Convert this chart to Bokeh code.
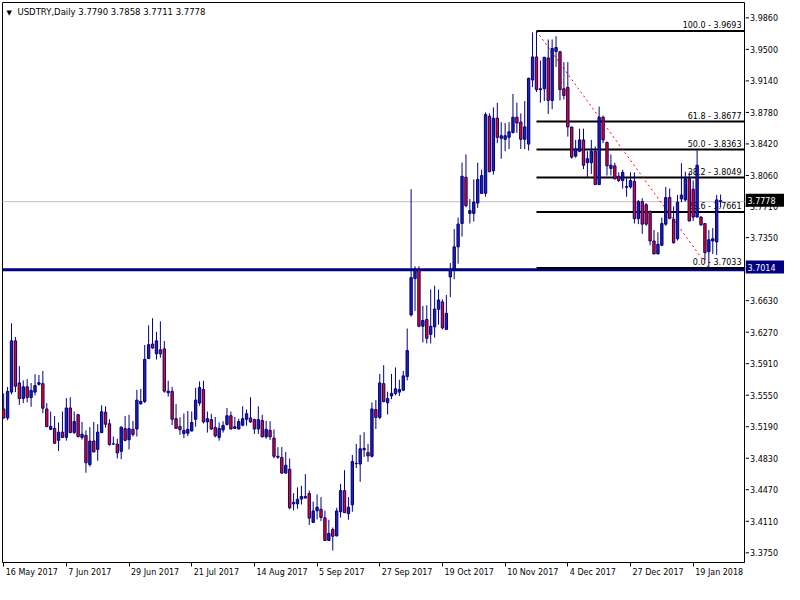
from bokeh.plotting import figure
from bokeh.layouts import row
from bokeh.models import ColumnDataSource, FixedTicker, Label, Range1d
from bokeh.embed import file_html
from bokeh.resources import INLINE
from bokeh.core.properties import value

# ---------------- data ----------------
symbol = "USDTRY,Daily"
last_ohlc = [3.7790, 3.7858, 3.7711, 3.7778]

opens = [
    3.5452, 3.5351, 3.5641, 3.6216, 3.5744, 3.5569, 3.5700, 3.5580, 3.5641, 3.5728,
    3.5736, 3.5452, 3.5223, 3.5234, 3.5100, 3.5191, 3.5133, 3.5463, 3.5187, 3.5387,
    3.5133, 3.5155, 3.4827, 3.5092, 3.4998, 3.5187, 3.5416, 3.5286, 3.5060, 3.5058,
    3.4976, 3.5231, 3.5107, 3.5223, 3.5227, 3.5510, 3.5536, 3.6017, 3.6180, 3.6071,
    3.6115, 3.6126, 3.5634, 3.5649, 3.5343, 3.5256, 3.5176, 3.5180, 3.5205, 3.5336,
    3.5518, 3.5670, 3.5307, 3.5332, 3.5245, 3.5133, 3.5216, 3.5278, 3.5376, 3.5234,
    3.5227, 3.5270, 3.5336, 3.5351, 3.5332, 3.5227, 3.5322, 3.5139, 3.5212, 3.5125,
    3.4921, 3.4907, 3.4732, 3.4776, 3.4387, 3.4387, 3.4441, 3.4470, 3.4503, 3.4179,
    3.4310, 3.4325, 3.4230, 3.3976, 3.4100, 3.4027, 3.4299, 3.4536, 3.4277, 3.4376,
    3.4838, 3.4834, 3.4994, 3.4962, 3.4921, 3.5445, 3.5357, 3.5736, 3.5521, 3.5598,
    3.5624, 3.5641, 3.5663, 3.5816, 3.6507, 3.6915, 3.7016, 3.6380, 3.6456, 3.6289,
    3.6373, 3.6569, 3.6653, 3.6344, 3.6933, 3.7024, 3.7271, 3.7533, 3.8052, 3.7646,
    3.7646, 3.7762, 3.7871, 3.7871, 3.8737, 3.8125, 3.8715, 3.8489, 3.8478, 3.8500,
    3.8554, 3.8726, 3.8671, 3.8478, 3.8424, 3.9144, 3.9402, 3.9045, 3.9045, 3.9391,
    3.8914, 3.9464, 3.9460, 3.9045, 3.9061, 3.8616, 3.8289, 3.8344, 3.8471, 3.8216,
    3.8216, 3.8344, 3.7970, 3.8726, 3.8442, 3.8151, 3.8180, 3.8063, 3.8016, 3.7947,
    3.7943, 3.8005, 3.7587, 3.7780, 3.7744, 3.7671, 3.7337, 3.7191, 3.7289, 3.7526,
    3.7824, 3.7580, 3.7362, 3.7809, 3.7798, 3.8035, 3.7918, 3.7605, 3.7605, 3.7533,
    3.7217, 3.7337, 3.7326, 3.7790,
]
highs = [
    3.5627, 3.5700, 3.6413, 3.6260, 3.5933, 3.5772, 3.5787, 3.5744, 3.5842, 3.5834,
    3.5878, 3.5518, 3.5423, 3.5373, 3.5300, 3.5423, 3.5573, 3.5584, 3.5423, 3.5398,
    3.5307, 3.5212, 3.5248, 3.5307, 3.5281, 3.5493, 3.5482, 3.5336, 3.5143, 3.5117,
    3.5256, 3.5373, 3.5387, 3.5318, 3.5667, 3.5678, 3.6169, 3.6391, 3.6470, 3.6318,
    3.6435, 3.6216, 3.5769, 3.5700, 3.5507, 3.5358, 3.5401, 3.5430, 3.5423, 3.5689,
    3.5761, 3.5769, 3.5423, 3.5398, 3.5362, 3.5300, 3.5314, 3.5463, 3.5423, 3.5362,
    3.5343, 3.5482, 3.5445, 3.5584, 3.5343, 3.5482, 3.5387, 3.5318, 3.5314, 3.5223,
    3.5024, 3.5024, 3.4969, 3.4896, 3.4507, 3.4572, 3.4590, 3.4721, 3.4536, 3.4413,
    3.4492, 3.4463, 3.4310, 3.4209, 3.4122, 3.4343, 3.4612, 3.4765, 3.4463, 3.4936,
    3.5060, 3.5161, 3.5191, 3.5060, 3.5526, 3.5551, 3.5845, 3.5943, 3.5646, 3.5845,
    3.5918, 3.5780, 3.5878, 3.6355, 3.7918, 3.7053, 3.7053, 3.6609, 3.6616, 3.6794,
    3.6835, 3.6791, 3.6682, 3.6732, 3.7089, 3.7471, 3.7599, 3.8216, 3.8308, 3.7809,
    3.8027, 3.8216, 3.8136, 3.8780, 3.8769, 3.8835, 3.8889, 3.8671, 3.8660, 3.8671,
    3.8987, 3.8889, 3.8769, 3.8907, 3.9170, 3.9678, 3.9693, 3.9362, 3.9399, 3.9598,
    3.9598, 3.9635, 3.9471, 3.9344, 3.9344, 3.8616, 3.8471, 3.8598, 3.8598, 3.8344,
    3.8471, 3.8398, 3.8845, 3.8744, 3.8453, 3.8308, 3.8216, 3.8107, 3.8136, 3.8042,
    3.8107, 3.8107, 3.7798, 3.7817, 3.7762, 3.7671, 3.7460, 3.7435, 3.7598, 3.7943,
    3.7925, 3.7725, 3.7852, 3.8209, 3.8115, 3.8107, 3.8016, 3.8355, 3.7616, 3.7533,
    3.7460, 3.7482, 3.7852, 3.7858,
]
lows = [
    3.5343, 3.5325, 3.5616, 3.5641, 3.5499, 3.5518, 3.5526, 3.5477, 3.5605, 3.5714,
    3.5406, 3.5253, 3.5216, 3.5063, 3.4980, 3.5125, 3.5096, 3.5180, 3.5172, 3.5133,
    3.5107, 3.4736, 3.4805, 3.4969, 3.4871, 3.5180, 3.5242, 3.5041, 3.5049, 3.4896,
    3.4888, 3.5089, 3.4998, 3.5143, 3.5143, 3.5499, 3.5518, 3.6017, 3.6126, 3.6006,
    3.6028, 3.5634, 3.5591, 3.5270, 3.5227, 3.5161, 3.5125, 3.5147, 3.5198, 3.5253,
    3.5488, 3.5289, 3.5187, 3.5216, 3.5133, 3.5096, 3.5187, 3.5264, 3.5223, 3.5227,
    3.5223, 3.5259, 3.5264, 3.5296, 3.5172, 3.5172, 3.5133, 3.5117, 3.5103, 3.4899,
    3.4893, 3.4725, 3.4732, 3.4325, 3.4314, 3.4332, 3.4380, 3.4449, 3.4151, 3.4179,
    3.4212, 3.4194, 3.3976, 3.3976, 3.3863, 3.4024, 3.4233, 3.4288, 3.4209, 3.4299,
    3.4790, 3.4634, 3.4914, 3.4860, 3.4907, 3.5227, 3.5336, 3.5526, 3.5390, 3.5562,
    3.5605, 3.5597, 3.5652, 3.5772, 3.6489, 3.6551, 3.6369, 3.6198, 3.6187, 3.6187,
    3.6252, 3.6398, 3.6344, 3.6344, 3.6707, 3.6907, 3.7082, 3.7387, 3.7714, 3.7533,
    3.7555, 3.7707, 3.7864, 3.7834, 3.8107, 3.8082, 3.8434, 3.8260, 3.8344, 3.8369,
    3.8543, 3.8551, 3.8369, 3.8369, 3.8351, 3.9064, 3.9009, 3.8889, 3.8907, 3.8762,
    3.8816, 3.9289, 3.8914, 3.8925, 3.8508, 3.8260, 3.8271, 3.8333, 3.8144, 3.8052,
    3.8089, 3.7970, 3.7970, 3.8434, 3.8071, 3.8071, 3.8027, 3.7998, 3.7925, 3.7834,
    3.7925, 3.7533, 3.7526, 3.7417, 3.7507, 3.7289, 3.7191, 3.7191, 3.7278, 3.7507,
    3.7580, 3.7307, 3.7343, 3.7773, 3.7780, 3.7555, 3.7562, 3.7605, 3.7507, 3.7120,
    3.7033, 3.7191, 3.7180, 3.7711,
]
closes = [
    3.5351, 3.5649, 3.6216, 3.5707, 3.5569, 3.5700, 3.5580, 3.5660, 3.5714, 3.5747,
    3.5460, 3.5253, 3.5256, 3.5067, 3.5191, 3.5133, 3.5463, 3.5187, 3.5311, 3.5143,
    3.5169, 3.4849, 3.5092, 3.4969, 3.5191, 3.5420, 3.5281, 3.5052, 3.5058, 3.4958,
    3.5248, 3.5100, 3.5231, 3.5166, 3.5551, 3.5536, 3.6009, 3.6173, 3.6137, 3.6216,
    3.6071, 3.5652, 3.5652, 3.5336, 3.5234, 3.5220, 3.5212, 3.5223, 3.5300, 3.5551,
    3.5692, 3.5307, 3.5343, 3.5227, 3.5150, 3.5234, 3.5267, 3.5376, 3.5227, 3.5253,
    3.5311, 3.5343, 3.5398, 3.5307, 3.5227, 3.5332, 3.5139, 3.5223, 3.5139, 3.4921,
    3.4910, 3.4732, 3.4820, 3.4343, 3.4405, 3.4438, 3.4470, 3.4452, 3.4227, 3.4307,
    3.4350, 3.4234, 3.3976, 3.4056, 3.4024, 3.4307, 3.4536, 3.4288, 3.4350, 3.4863,
    3.4841, 3.5005, 3.5009, 3.4925, 3.5452, 3.5357, 3.5744, 3.5536, 3.5569, 3.5627,
    3.5678, 3.5670, 3.5823, 3.6107, 3.6926, 3.7016, 3.6380, 3.6445, 3.6245, 3.6380,
    3.6573, 3.6675, 3.6362, 3.6525, 3.7024, 3.7271, 3.7526, 3.8063, 3.7733, 3.7678,
    3.7773, 3.8027, 3.8071, 3.8755, 3.8115, 3.8715, 3.8500, 3.8518, 3.8518, 3.8562,
    3.8726, 3.8660, 3.8478, 3.8617, 3.9162, 3.9402, 3.9035, 3.9035, 3.9399, 3.8914,
    3.9497, 3.9508, 3.9035, 3.8969, 3.8616, 3.8278, 3.8369, 3.8471, 3.8187, 3.8260,
    3.8344, 3.7970, 3.8726, 3.8471, 3.8180, 3.8187, 3.8035, 3.8016, 3.8107, 3.7940,
    3.8016, 3.7587, 3.7780, 3.7526, 3.7526, 3.7337, 3.7191, 3.7300, 3.7533, 3.7824,
    3.7591, 3.7318, 3.7773, 3.7852, 3.8035, 3.7562, 3.7605, 3.8187, 3.7518, 3.7206,
    3.7351, 3.7362, 3.7798, 3.7778,
]

date_tick_bars = [0, 16, 32, 48, 64, 80, 96, 112, 128, 144, 160, 176]
date_labels = ["16 May 2017", "7 Jun 2017", "29 Jun 2017", "21 Jul 2017",
               "14 Aug 2017", "5 Sep 2017", "27 Sep 2017", "19 Oct 2017",
               "10 Nov 2017", "4 Dec 2017", "27 Dec 2017", "19 Jan 2018"]
price_ticks = [3.3750, 3.4110, 3.4470, 3.4830, 3.5190, 3.5550, 3.5910, 3.6270,
               3.6630, 3.6990, 3.7350, 3.7710, 3.8060, 3.8420, 3.8780, 3.9140,
               3.9500, 3.9860]

support_level = 3.7014
current_price = 3.7778
fib_high_bar = 136
fib_low_bar = 180
fib_high = 3.9693
fib_low = 3.7033
fib_ratios = [0.0, 23.6, 38.2, 50.0, 61.8, 100.0]

# ---------------- layout / styling ----------------
FONT = "DejaVu Sans"
NAVY = "#000080"
BULL = "#2020a8"
BEAR = "#ff0000"
AXIS_FONT_PX = 8

W, H = 784, 584
BL, BT, BB = 2, 2, 22
FW = 742
FH = H - BT - BB
MAIN_W = BL + FW + 1
SIDE_W = W - MAIN_W
X0, X1 = -0.3, 189.1
Y0, Y1 = 3.3729, 4.0013
PX_PER_BAR = FW / (X1 - X0)
UNITS_PER_PX = (Y1 - Y0) / FH

# approximate DejaVu Sans advance widths (em) to left-align date labels at their ticks
CHAR_EM = {" ": 0.318, "M": 0.863, "a": 0.613, "y": 0.592, "J": 0.295, "u": 0.634,
           "n": 0.634, "l": 0.278, "A": 0.684, "g": 0.635, "S": 0.635, "e": 0.615,
           "p": 0.635, "O": 0.787, "c": 0.550, "t": 0.392, "N": 0.748, "o": 0.612,
           "v": 0.592, "D": 0.770}


def text_px(s, size):
    return sum(CHAR_EM.get(ch, 0.636) for ch in s) * size


label_pos = [round(b + (2 + text_px(t, AXIS_FONT_PX) / 2) / PX_PER_BAR, 4)
             for b, t in zip(date_tick_bars, date_labels)]

# ================= main chart =================
p = figure(width=MAIN_W, height=H, output_backend="svg", toolbar_location=None,
           x_range=Range1d(X0, X1), y_range=Range1d(Y0, Y1),
           y_axis_location=None, min_border_left=BL, min_border_top=BT,
           min_border_right=1, min_border_bottom=BB)
p.background_fill_color = "white"
p.border_fill_color = "white"
p.outline_line_color = "black"
p.outline_line_width = 1
p.xgrid.visible = False
p.ygrid.visible = False

# x axis: real tick marks as minor ticks at the bars, labels left-aligned after them
p.xaxis.ticker = FixedTicker(ticks=label_pos, minor_ticks=date_tick_bars)
p.xaxis.major_label_overrides = {lp: t for lp, t in zip(label_pos, date_labels)}
p.xaxis.major_tick_line_color = None
p.xaxis.major_tick_out = 4
p.xaxis.major_tick_in = 0
p.xaxis.minor_tick_line_color = "black"
p.xaxis.minor_tick_out = 4
p.xaxis.minor_tick_in = 0
p.xaxis.axis_line_color = "black"
p.xaxis.major_label_standoff = 1
p.xaxis.major_label_text_font = FONT
p.xaxis.major_label_text_font_size = f"{AXIS_FONT_PX}px"
p.xaxis.major_label_text_color = "black"

# objects behind candles
p.segment(x0=[X0 - 5], y0=[current_price], x1=[X1 + 5], y1=[current_price],
          line_color="#c0c0c0", line_width=1)
p.segment(x0=[X0 - 5], y0=[support_level], x1=[X1 + 5], y1=[support_level],
          line_color=NAVY, line_width=3)

fib_vals = [fib_low + (fib_high - fib_low) * r / 100.0 for r in fib_ratios]
fib_texts = [f"{r:.1f} - {v:.4f}" for r, v in zip(fib_ratios, fib_vals)]
fib_src = ColumnDataSource(dict(x0=[fib_high_bar] * len(fib_vals), x1=[X1 + 5] * len(fib_vals),
                                y=fib_vals, xt=[X1] * len(fib_vals), t=fib_texts))
p.segment(x0="x0", y0="y", x1="x1", y1="y", source=fib_src, line_color="black", line_width=2)
p.text(x="xt", y="y", text="t", source=fib_src, text_align="right", text_baseline="bottom",
       x_offset=-3, y_offset=-1, text_font=value(FONT), text_font_size="8px", text_color="black")
p.segment(x0=[fib_high_bar], y0=[fib_high], x1=[fib_low_bar], y1=[fib_low],
          line_color="red", line_width=1, line_dash="2 3")

# candles
xs = list(range(len(opens)))
tops = [max(o, c) for o, c in zip(opens, closes)]
bots = [min(o, c) for o, c in zip(opens, closes)]
fills = [BULL if c >= o else BEAR for o, c in zip(opens, closes)]
src = ColumnDataSource(dict(x=xs, h=highs, l=lows, top=tops, bot=bots, fill=fills))
p.segment(x0="x", y0="h", x1="x", y1="l", source=src, line_color=NAVY, line_width=1)
p.vbar(x="x", top="top", bottom="bot", width=0.6, source=src,
       fill_color="fill", line_color=NAVY, line_width=1)

title = symbol + "  " + " ".join(f"{v:.4f}" for v in last_ohlc)
p.add_layout(Label(x=X0, y=Y1, x_offset=15, y_offset=-4, text=title, text_align="left",
                   text_baseline="top", text_font=FONT, text_font_size="8.5px",
                   text_color="black"))
p.add_layout(Label(x=X0, y=Y1, x_offset=4, y_offset=-6, text="\u25BC", text_align="left",
                   text_baseline="top", text_font=FONT, text_font_size="7px", text_color="black"))

# ================= price scale (right) =================
S_BT, S_BB = 0, 14
side = figure(width=SIDE_W, height=H, output_backend="svg", toolbar_location=None,
              x_range=Range1d(0, SIDE_W),
              y_range=Range1d(Y0 - (BB - S_BB) * UNITS_PER_PX, Y1 + (BT - S_BT) * UNITS_PER_PX),
              x_axis_location=None, y_axis_location=None,
              min_border_left=0, min_border_right=0, min_border_top=S_BT, min_border_bottom=S_BB)
side.outline_line_color = None
side.background_fill_color = "white"
side.border_fill_color = "white"
side.xgrid.visible = False
side.ygrid.visible = False

n_t = len(price_ticks)
side.segment(x0=[0] * n_t, y0=price_ticks, x1=[3.5] * n_t, y1=price_ticks,
             line_color="black", line_width=1)
side.text(x=[4.5] * n_t, y=price_ticks, text=[f"{t:.4f}" for t in price_ticks],
          text_align="left", text_baseline="middle", text_font=value(FONT),
          text_font_size=f"{AXIS_FONT_PX}px", text_color="black")

box_prices = [current_price, support_level]
side.rect(x=[SIDE_W / 2] * 2, y=box_prices, width=SIDE_W, height=13, height_units="screen",
          fill_color=["black", NAVY], line_color=None)
side.text(x=[2] * 2, y=box_prices, text=[f"{v:.4f}" for v in box_prices],
          text_align="left", text_baseline="middle", text_font=value(FONT),
          text_font_size=f"{AXIS_FONT_PX}px", text_color="white")

layout = row(p, side, spacing=0)
open("out.html", "w").write(file_html(layout, INLINE))
